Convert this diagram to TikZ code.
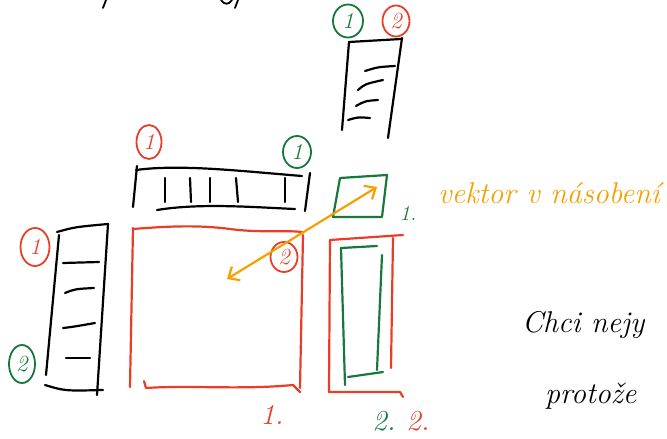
\documentclass[tikz,border=0pt]{standalone}
\usepackage{fontspec}
\usetikzlibrary{shapes.geometric,arrows.meta}
\definecolor{cred}{RGB}{232,62,40}
\definecolor{cgreen}{RGB}{22,120,58}
\definecolor{corange}{RGB}{245,160,0}
\tikzset{
  hand/.style={line width=2.2pt, line cap=round, line join=round},
  blk/.style={hand, draw=black},
  redl/.style={hand, draw=cred},
  grnl/.style={hand, draw=cgreen},
  numfont/.style={font=\itshape\fontsize{23}{23}\selectfont},
  circR/.style={ellipse, draw=cred, line width=1.8pt, inner sep=0pt, text=cred, numfont},
  circG/.style={ellipse, draw=cgreen, line width=1.8pt, inner sep=0pt, text=cgreen, numfont},
  lblR/.style={text=cred, font=\itshape\fontsize{29}{29}\selectfont, inner sep=0pt},
  lblG/.style={text=cgreen, font=\itshape\fontsize{29}{29}\selectfont, inner sep=0pt},
  handtext/.style={font=\itshape\fontsize{30}{30}\selectfont, inner sep=0pt, anchor=base west}
}
\begin{document}
\begin{tikzpicture}[x=1pt,y=-1pt]
\useasboundingbox (0,0) rectangle (667,439);

% cut-off fragments at top
\draw[blk, line width=1.8pt] (106,0) -- (103,8);
\draw[blk, line width=1.8pt] (221,0) .. controls (224,5) and (229,5) .. (232,0);
\draw[blk, line width=1.8pt] (238,0) -- (235,8);

% ---- top vertical matrix (black)
\draw[blk] (349,42) -- (401,39);
\draw[blk] (349,42) -- (342,130);
\draw[blk] (402,38) -- (388,138);
\draw[blk] (365,71) .. controls (378,67) .. (395,66);
\draw[blk] (358,90) .. controls (365,84) .. (383,80);
\draw[blk] (356,106) .. controls (365,101) .. (378,100);
\draw[blk] (348,120) .. controls (358,117) .. (370,118);
\node[circG, minimum width=30pt, minimum height=33pt] (tg1) at (348,21) {1};
\node[circR, minimum width=27pt, minimum height=31pt] (tr2) at (396,21) {2};

% ---- horizontal matrix (black)
\draw[blk] (136,170) .. controls (180,164) and (240,171) .. (302,176);
\draw[blk] (137,166) -- (133,207);
\draw[blk] (310,173) -- (305,211);
\draw[blk] (157,210) .. controls (200,203) and (250,207) .. (295,209);
\foreach \x/\d in {165/0, 190/1, 210/0, 236/2, 285/0}
  \draw[blk] (\x,178) -- (\x+\d,202);
\node[circR, minimum width=25pt, minimum height=34pt] (hr1) at (149,142) {1};
\node[circG, minimum width=28pt, minimum height=32pt] (hg1) at (297,152) {1};

% ---- left vertical matrix (black)
\draw[blk] (57,232) .. controls (75,227) .. (108,224);
\draw[blk] (59,235) -- (46,375);
\draw[blk] (108,224) -- (97,395);
\draw[blk] (45,385) .. controls (65,391) .. (103,390);
\draw[blk] (63,263) -- (99,262);
\draw[blk] (65,293) .. controls (75,289) .. (94,288);
\draw[blk] (63,328) .. controls (72,327) .. (95,323);
\draw[blk] (66,358) -- (90,358);
\node[circR, minimum width=29pt, minimum height=38pt] (lr1) at (35,247) {1};
\node[circG, minimum width=26pt, minimum height=38pt] (lg2) at (22,364) {2};

% ---- big red square
\draw[redl] (133,229) .. controls (170,226) and (200,225) .. (230,229) .. controls (260,233) and (285,230) .. (302,232);
\draw[redl] (133,228) -- (130,387);
\draw[redl] (303,235) -- (300,388);
\draw[redl] (144,381) -- (146,388) .. controls (190,385) and (240,390) .. (293,385) -- (300,392);
\node[circR, minimum width=27pt, minimum height=30pt] (rr2) at (284,257) {2};
\node[lblR] (l1) at (272,415) {1.};

% ---- small green box
\draw[grnl] (340,178) -- (387,175) -- (382,217) -- (333,217) -- cycle;
\node[lblG, font=\itshape\fontsize{21}{21}\selectfont] (g1) at (408,214) {1.};

% ---- red tall rectangle with green inner
\draw[redl] (330,240) -- (403,235);
\draw[redl] (330,240) -- (329,392);
\draw[redl] (393,238) -- (391,368);
\draw[redl] (329,392) -- (400,392) -- (403,397);
\draw[grnl] (341,248) -- (377,246);
\draw[grnl] (341,248) -- (345,385);
\draw[grnl] (382,255) -- (377,370);
\draw[grnl] (348,377) -- (383,372);
\node[lblG] (g2) at (384,421) {2.};
\node[lblR] (r2) at (418,421) {2.};

% ---- orange arrow and text
\coordinate (aL) at (227,279);
\coordinate (aR) at (377,187);
\draw[hand, draw=corange, {Straight Barb[length=9pt,width=16pt]}-{Straight Barb[length=9pt,width=16pt]}] (aL) -- (aR);
\node[handtext, text=corange] (vt) at (438,203) {vektor v násobení};

% ---- black handwriting
\node[handtext] (chci) at (522,332) {Chci nejy};
\node[handtext] (prot) at (545,403) {protože};
\end{tikzpicture}
\end{document}
